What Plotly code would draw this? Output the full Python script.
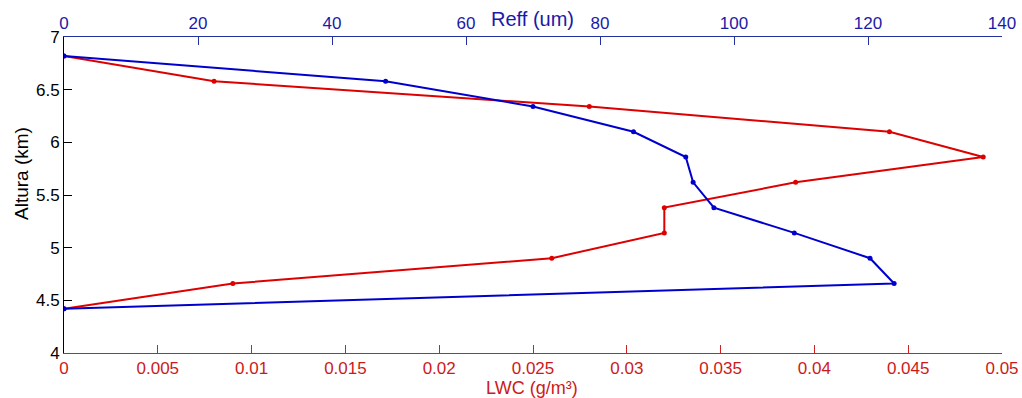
import plotly.graph_objects as go

# Altitude levels (km)
altura = [6.82, 6.58, 6.34, 6.10, 5.86, 5.62, 5.38, 5.14, 4.90, 4.66, 4.42]
# Effective radius (um) - blue, top axis
reff = [0, 48, 70, 85, 92.8, 93.9, 97, 109, 120.3, 123.9, 0]
# Liquid water content (g/m3) - red, bottom axis
lwc = [0, 0.008, 0.028, 0.044, 0.049, 0.039, 0.032, 0.032, 0.026, 0.009, 0]

xticks_lwc = [0, 0.005, 0.01, 0.015, 0.02, 0.025, 0.03, 0.035, 0.04, 0.045, 0.05]
xticks_reff = [0, 20, 40, 60, 80, 100, 120, 140]
yticks = [4, 4.5, 5, 5.5, 6, 6.5, 7]

RED_LINE = "#dd0000"
BLUE_LINE = "#0000cc"
RED_AX = "#cc2222"
BLUE_AX = "#23309e"
FONT = "Liberation Sans, Arial, sans-serif"

W, H = 1022, 398
L, R, T, B = 64, 20, 37, 45

fig = go.Figure()
fig.add_trace(go.Scatter(
    x=lwc, y=altura, mode="lines+markers", xaxis="x", yaxis="y",
    line=dict(color=RED_LINE, width=2), marker=dict(color=RED_LINE, size=5),
    showlegend=False))
fig.add_trace(go.Scatter(
    x=reff, y=altura, mode="lines+markers", xaxis="x2", yaxis="y",
    line=dict(color=BLUE_LINE, width=2), marker=dict(color=BLUE_LINE, size=5),
    showlegend=False))

fig.update_layout(
    width=W, height=H,
    margin=dict(l=L, r=R, t=T, b=B, autoexpand=False),
    paper_bgcolor="white", plot_bgcolor="white",
    font=dict(family=FONT, size=17),
    xaxis=dict(
        range=[0, 0.05], tickvals=xticks_lwc,
        ticktext=[("%g" % v) for v in xticks_lwc],
        showgrid=False, zeroline=False, showline=True, linecolor=RED_AX,
        linewidth=1, ticks="inside", ticklen=8, tickcolor=RED_AX,
        tickfont=dict(color="#cc1a1a", size=17, family=FONT),
        side="bottom", anchor="y", automargin=False),
    xaxis2=dict(
        range=[0, 140], tickvals=xticks_reff,
        showgrid=False, zeroline=False, showline=True, linecolor=BLUE_AX,
        linewidth=1, ticks="inside", ticklen=8, tickcolor=BLUE_AX,
        tickfont=dict(color="#1a1aa8", size=17, family=FONT),
        side="top", overlaying="x", anchor="y", automargin=False),
    yaxis=dict(
        range=[4, 7], tickvals=yticks,
        ticktext=[("%g" % v) for v in yticks],
        showgrid=False, zeroline=False, showline=True, linecolor="black",
        linewidth=1, ticks="inside", ticklen=8, tickcolor="black",
        tickfont=dict(color="black", size=17, family=FONT), automargin=False),
)

pw, ph = W - L - R, H - T - B


def ann(text, px, py, color, size, angle=0):
    return dict(text=text, xref="paper", yref="paper",
                x=(px - L) / pw, y=1 - (py - T) / ph,
                xanchor="center", yanchor="middle", showarrow=False,
                textangle=angle, font=dict(color=color, size=size, family=FONT))


fig.update_layout(annotations=[
    ann("Reff (um)", 532, 19, "#1a1aa8", 20),
    ann("LWC (g/m³)", 532, 388, "#cc1a1a", 18),
    ann("Altura (km)", 21, 174, "black", 19, -90),
])

fig.write_html("out.html")
